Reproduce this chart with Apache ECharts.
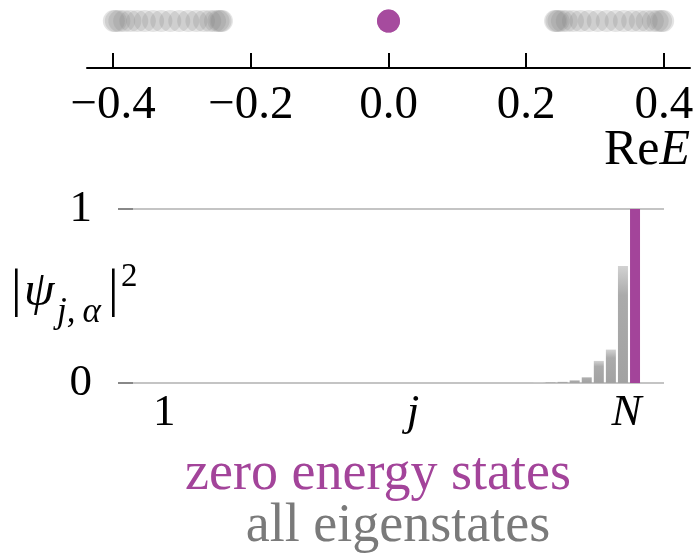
<!DOCTYPE html>
<html>
<head>
<meta charset="utf-8">
<script src="https://cdn.jsdelivr.net/npm/echarts@6/dist/echarts.min.js"></script>
<style>
  html, body { margin: 0; padding: 0; background: #fff; }
  #chart { width: 700px; height: 555px; }
  .preload { position: absolute; left: -9999px; top: 0; font-family: 'Liberation Serif'; font-size: 40px; }
</style>
</head>
<body>
<span class="preload">0.4 zero</span><span class="preload" style="font-style:italic">jNE&#968;&#945;</span>
<div id="chart"></div>
<script>
// Spectrum: real parts of the eigenenergies
const energyTicks = [-0.4, -0.2, 0.0, 0.2, 0.4];
const bulkEnergies = [
  -0.399, -0.396, -0.391, -0.384, -0.375, -0.365, -0.354, -0.342, -0.330, -0.317,
  -0.304, -0.291, -0.279, -0.268, -0.259, -0.252, -0.247, -0.244, -0.242,
   0.242,  0.244,  0.247,  0.252,  0.259,  0.268,  0.279,  0.291,  0.304,  0.317,
   0.330,  0.342,  0.354,  0.365,  0.375,  0.384,  0.391,  0.396,  0.399
];
const zeroEnergies = [0.0, 0.0];

// Site-resolved weights |psi_{j,alpha}|^2
const bulkSites = [32, 33, 34, 35, 36, 37, 38, 39];
const bulkWeights = [0.002, 0.004, 0.007, 0.016, 0.034, 0.127, 0.192, 0.672];
const zeroSites = [40];
const zeroWeights = [1.0];
const weightTicks = [0, 1];
const siteTickValues = [1, 21.6, 39.3];
const siteTickLabels = ['1', 'j', 'N'];

const PURPLE = '#a3449a';
const SERIF = 'Liberation Serif';
const FS = 47;
const DOT_ROW = 0.69;

const fmtEnergy = v => {
  const s = Math.abs(v).toFixed(1);
  return (v < -1e-9 ? '\u2212' : '') + s;
};

function draw() {
  const chart = echarts.init(document.getElementById('chart'), null, { renderer: 'canvas' });
  chart.setOption({
    backgroundColor: '#fff',
    animation: false,
    textStyle: { fontFamily: SERIF },
    grid: [
      { left: 87, right: 10, top: 0, height: 68 },
      { left: 118, right: 36, top: 209, height: 174 }
    ],
    xAxis: [
      {
        gridIndex: 0, type: 'value', min: -0.438, max: 0.438,
        axisLine: { show: true, lineStyle: { color: '#000', width: 2 } },
        axisTick: { show: true, inside: true, length: 15, customValues: energyTicks,
          lineStyle: { color: '#000', width: 2 } },
        axisLabel: { show: true, customValues: energyTicks, formatter: fmtEnergy,
          margin: 14, color: '#000', fontFamily: SERIF, fontSize: FS },
        splitLine: { show: false }
      },
      {
        gridIndex: 1, type: 'value', min: -2.83, max: 42.4,
        axisLine: { show: false, onZero: false },
        axisTick: { show: false },
        axisLabel: {
          show: true, customValues: siteTickValues, margin: 8,
          formatter: v => {
            const i = siteTickValues.indexOf(v);
            const t = i >= 0 ? siteTickLabels[i] : '';
            return i === 0 ? '{n|' + t + '}' : '{i|' + t + '}';
          },
          rich: {
            n: { fontFamily: SERIF, fontSize: FS - 2, color: '#000' },
            i: { fontFamily: SERIF, fontSize: FS - 2, fontStyle: 'italic', color: '#000' }
          }
        },
        splitLine: { show: false }
      }
    ],
    yAxis: [
      { gridIndex: 0, type: 'value', min: 0, max: 1, show: false },
      {
        gridIndex: 1, type: 'value', min: 0, max: 1, interval: 1,
        axisLine: { show: false, onZero: false },
        axisTick: { show: true, inside: true, length: 15, lineStyle: { color: '#888', width: 2 } },
        axisLabel: { show: true, margin: 26, color: '#000', fontFamily: SERIF, fontSize: FS - 2,
          customValues: weightTicks },
        splitLine: { show: true, lineStyle: { color: '#c4c4c4', width: 2 } }
      }
    ],
    series: [
      {
        name: 'all eigenstates', type: 'scatter', xAxisIndex: 0, yAxisIndex: 0,
        data: bulkEnergies.map(e => [e, DOT_ROW]),
        symbol: 'circle', symbolSize: 22,
        itemStyle: { color: 'rgba(128,128,128,0.27)' },
        silent: true
      },
      {
        name: 'zero energy states', type: 'scatter', xAxisIndex: 0, yAxisIndex: 0,
        data: zeroEnergies.map(e => [e, DOT_ROW]),
        symbol: 'circle', symbolSize: 23,
        itemStyle: { color: PURPLE },
        silent: true
      },
      {
        name: 'all eigenstates', type: 'bar', xAxisIndex: 1, yAxisIndex: 1,
        data: bulkSites.map((s, i) => [s, bulkWeights[i]]),
        barWidth: 10, barGap: '-100%',
        itemStyle: {
          color: {
            type: 'linear', x: 0, y: 0, x2: 0, y2: 1,
            colorStops: [
              { offset: 0, color: '#d2d2d2' },
              { offset: 0.25, color: '#ababab' },
              { offset: 1, color: '#a2a2a2' }
            ]
          }
        },
        silent: true
      },
      {
        name: 'zero energy states', type: 'bar', xAxisIndex: 1, yAxisIndex: 1,
        data: zeroSites.map((s, i) => [s, zeroWeights[i]]),
        barWidth: 10, barGap: '-100%',
        itemStyle: { color: PURPLE },
        silent: true
      }
    ],
    graphic: [
      {
        type: 'text', right: 10, top: 126,
        style: {
          text: '{r|Re}{i|E}', align: 'right',
          rich: {
            r: { fontFamily: SERIF, fontSize: FS + 3, fill: '#000' },
            i: { fontFamily: SERIF, fontSize: FS + 3, fontStyle: 'italic', fill: '#000' }
          }
        }
      },
      // |psi_{j,alpha}|^2
      { type: 'text', left: 11, top: 266,
        style: { text: '|', fontFamily: SERIF, fontSize: FS + 6, fill: '#000' } },
      { type: 'text', left: 24, top: 268,
        style: { text: '\u03c8', fontFamily: SERIF, fontSize: FS + 2, fontStyle: 'italic', fill: '#000' } },
      { type: 'text', left: 57, top: 295,
        style: { text: 'j,\u2009\u03b1', fontFamily: SERIF, fontSize: 35, fontStyle: 'italic', fill: '#000' } },
      { type: 'text', left: 108, top: 266,
        style: { text: '|', fontFamily: SERIF, fontSize: FS + 6, fill: '#000' } },
      { type: 'text', left: 121, top: 261,
        style: { text: '2', fontFamily: SERIF, fontSize: 33, fill: '#000' } },
      {
        type: 'text', x: 378, y: 475,
        style: { text: 'zero energy states', align: 'center', verticalAlign: 'middle',
          fontFamily: SERIF, fontSize: 54, fill: PURPLE }
      },
      {
        type: 'text', x: 398, y: 527,
        style: { text: 'all eigenstates', align: 'center', verticalAlign: 'middle',
          fontFamily: SERIF, fontSize: 54, fill: '#7a7a7a' }
      }
    ]
  });
}

// Make sure the serif faces are ready before the canvas draws its text
const fontJobs = [
  '46px "Liberation Serif"', 'italic 46px "Liberation Serif"'
].map(f => document.fonts.load(f));
Promise.all(fontJobs).then(draw, draw);
</script>
</body>
</html>
